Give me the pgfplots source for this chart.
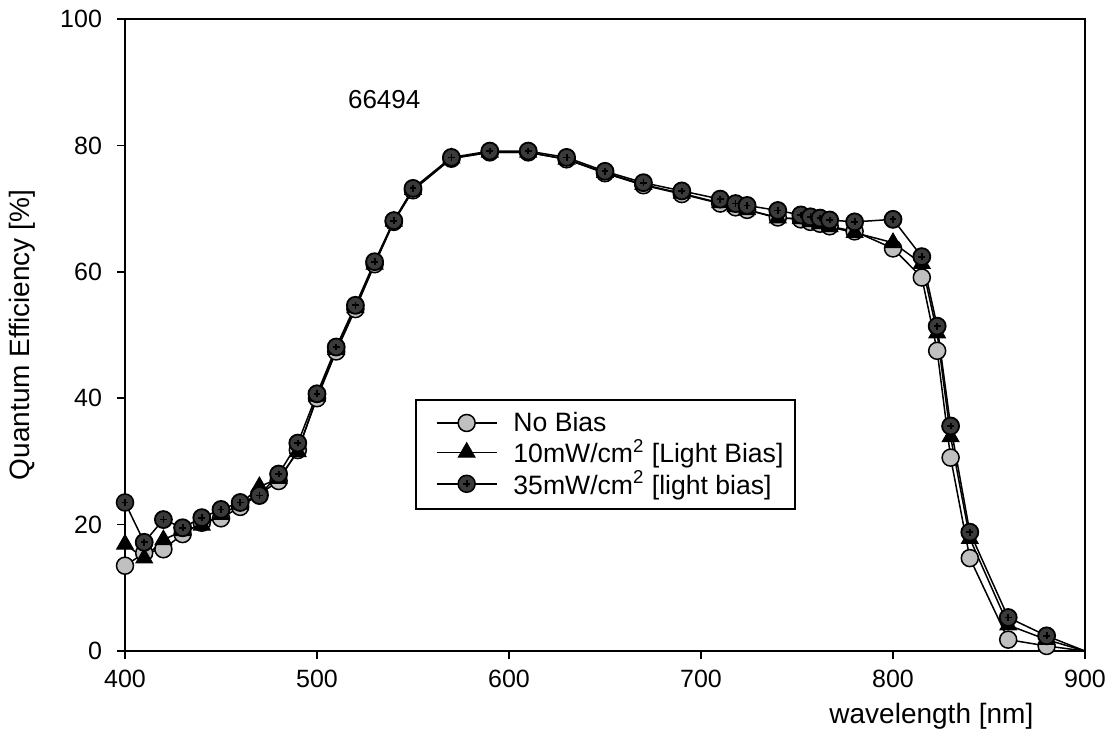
\documentclass[border=0pt]{standalone}
\usepackage{pgfplots}
\pgfplotsset{compat=1.18}
\usepackage{fontspec}
\setmainfont{Liberation Sans}
\definecolor{lgray}{HTML}{C0C0C0}
\definecolor{dgray}{HTML}{3A3A3A}
\pgfdeclareplotmark{cdot}{%
  \pgfpathcircle{\pgfpointorigin}{\pgfplotmarksize}%
  \pgfusepathqfillstroke
  \pgfsetlinewidth{0.9pt}%
  \pgfpathmoveto{\pgfpoint{-0.4\pgfplotmarksize}{0pt}}\pgfpathlineto{\pgfpoint{0.4\pgfplotmarksize}{0pt}}%
  \pgfpathmoveto{\pgfpoint{0pt}{-0.4\pgfplotmarksize}}\pgfpathlineto{\pgfpoint{0pt}{0.4\pgfplotmarksize}}%
  \pgfusepathqstroke
}
\pgfplotstableread{
wl    nb     lb10   lb35
400   13.5   16.9   23.5
410   15.5   14.7   17.2
420   16.1   17.6   20.8
430   18.5   19.0   19.5
440   20.3   19.9   21.1
450   21.0   21.6   22.4
460   22.8   23.2   23.5
470   24.8   26.0   24.6
480   26.9   27.3   28.0
490   31.8   31.5   32.9
500   40.0   40.3   40.7
510   47.4   47.7   48.1
520   54.1   54.3   54.7
530   61.2   61.2   61.6
540   67.9   68.0   68.1
550   72.9   73.0   73.2
570   77.9   78.0   78.1
590   78.9   78.9   79.1
610   78.9   78.9   79.1
630   77.8   77.8   78.1
650   75.6   75.7   75.9
670   73.7   73.8   74.1
690   72.3   72.4   72.8
710   70.8   70.9   71.5
718   70.2   70.3   70.8
724   69.8   69.8   70.5
740   68.6   68.5   69.7
752   68.3   68.4   69.0
757   67.9   67.9   68.7
762   67.6   67.6   68.5
767   67.2   67.1   68.2
780   66.4   66.2   67.9
800   63.7   64.6   68.3
815   59.1   61.3   62.4
823   47.5   50.3   51.4
830   30.6   33.9   35.6
840   14.7   17.8   18.8
860   1.8    4.1    5.3
880   0.8    1.8    2.4
900   0.0    0.0    0.0
}\qe
\begin{document}
\begin{tikzpicture}
\begin{axis}[
  scale only axis,
  width=480pt, height=316pt,
  xmin=400, xmax=900, ymin=0, ymax=100,
  xtick={400,500,...,900}, ytick={0,20,...,100},
  xtick pos=bottom, ytick pos=left,
  tick align=outside,
  major tick length=4pt,
  minor tick num=0,
  axis line style={line width=1pt},
  every tick/.style={black, line width=0.8pt},
  tick label style={font=\fontsize{12.5}{14}\selectfont},
  /pgf/number format/assume math mode=true,
  xticklabel style={yshift=-2pt},
  yticklabel style={xshift=-4pt},
  label style={font=\fontsize{14}{16}\selectfont},
  xlabel={wavelength [nm]},
  x label style={at={(axis description cs:0.84,0)}, anchor=north, yshift=-22.5pt},
  ylabel={Quantum Efficiency [\%]},
  y label style={at={(axis description cs:-0.107,0.5)}, anchor=center, rotate=0},
  legend style={at={(0.302,0.399)}, anchor=north west, draw=black, line width=1pt,
    font=\fontsize{13.3}{15}\selectfont, row sep=-1.5pt, inner xsep=4pt, inner ysep=4pt,
    legend cell align=left},
  legend image code/.code={%
    \path (-6pt,0pt) (36pt,0pt);
    \draw (0pt,0pt) -- (30pt,0pt);
    \draw plot coordinates {(15pt,0pt)};},
  every axis plot/.append style={line width=0.75pt, black},
  mark indices={1,...,39},
]
\addplot[mark=*, mark size=4.25pt, mark options={fill=lgray, line width=0.75pt}] table[x=wl,y=nb]{\qe};
\addlegendentry{No Bias}
\addplot[mark=triangle*, mark size=4.8pt, mark options={fill=black, line width=0.5pt}] table[x=wl,y=lb10]{\qe};
\addlegendentry{10mW/cm\textsuperscript{2} [Light Bias]}
\addplot[mark=cdot, mark size=4.25pt, mark options={fill=dgray, draw=black, line width=0.75pt}] table[x=wl,y=lb35]{\qe};
\addlegendentry{35mW/cm\textsuperscript{2} [light bias]}
\node[font=\fontsize{13}{15}\selectfont] at (axis cs:535,87.2) {66494};
\end{axis}
\pgfresetboundingbox
\path ([xshift=-62.5pt,yshift=-39.5pt]current axis.south west) rectangle ([xshift=12.5pt,yshift=9.5pt]current axis.north east);
\end{tikzpicture}
\end{document}
